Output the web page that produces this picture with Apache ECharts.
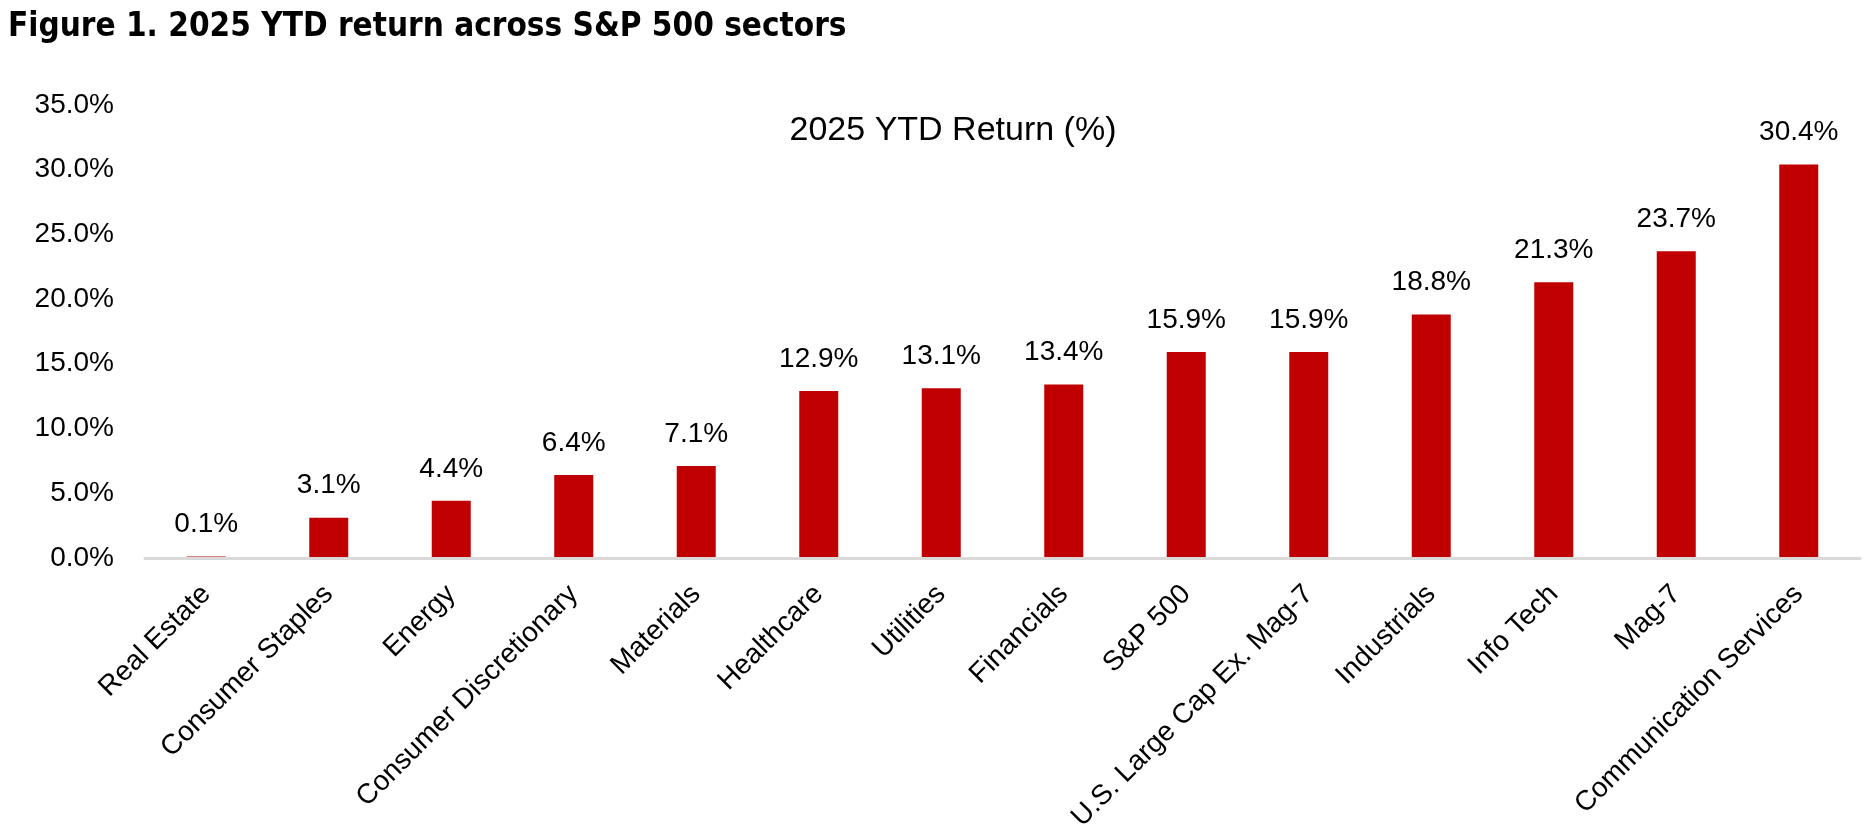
<!DOCTYPE html>
<html>
<head>
<meta charset="utf-8">
<script src="https://cdn.jsdelivr.net/npm/echarts@6/dist/echarts.min.js"></script>
<style>
html,body{margin:0;padding:0;background:#fff;}
#chart{width:1868px;height:834px;}
</style>
</head>
<body>
<div id="chart"></div>
<script>
const categories = ["Real Estate","Consumer Staples","Energy","Consumer Discretionary","Materials","Healthcare","Utilities","Financials","S&P 500","U.S. Large Cap Ex. Mag-7","Industrials","Info Tech","Mag-7","Communication Services"];
const returns = [0.1, 3.1, 4.4, 6.4, 7.1, 12.9, 13.1, 13.4, 15.9, 15.9, 18.8, 21.3, 23.7, 30.4];
const yTicks = [0, 5, 10, 15, 20, 25, 30, 35];
const figureTitle = "Figure 1. 2025 YTD return across S&P 500 sectors";
const chartTitle = "2025 YTD Return (%)";

const narrow = '"Liberation Sans Narrow","DejaVu Sans Condensed","Roboto Condensed",sans-serif';
const regular = '"Liberation Sans",Arial,sans-serif';

const chart = echarts.init(document.getElementById('chart'), null, {renderer:'canvas'});
chart.setOption({
  animation:false,
  backgroundColor:'#fff',
  title:[
    {text:figureTitle, left:3, top:6, textStyle:{fontFamily:narrow, fontWeight:'bold', fontSize:33, color:'#000'}},
    {text:chartTitle, left:948, top:109, textAlign:'center', textStyle:{fontFamily:regular, fontWeight:'normal', fontSize:34, color:'#000'}}
  ],
  grid:{left:145, right:8, top:105, bottom:268, containLabel:false},
  xAxis:{
    type:'category', data:categories, z:5,
    axisLine:{show:true, lineStyle:{color:'#D9D9D9', width:3}},
    axisTick:{show:false},
    axisLabel:{rotate:45, interval:0, fontFamily:regular, fontSize:28, color:'#000', margin:32}
  },
  yAxis:{
    type:'value', min:yTicks[0], max:yTicks[yTicks.length-1], interval:5,
    axisLine:{show:false}, axisTick:{show:false}, splitLine:{show:false},
    axisLabel:{fontFamily:regular, fontSize:28, color:'#000', margin:31, formatter:v=>v.toFixed(1)+'%'}
  },
  series:[{
    type:'bar', data:returns, barWidth:39,
    itemStyle:{color:'#C00000'},
    label:{show:true, position:'top', distance:18, fontFamily:regular, fontSize:28, color:'#000', formatter:p=>p.value.toFixed(1)+'%'}
  }]
});
</script>
</body>
</html>
